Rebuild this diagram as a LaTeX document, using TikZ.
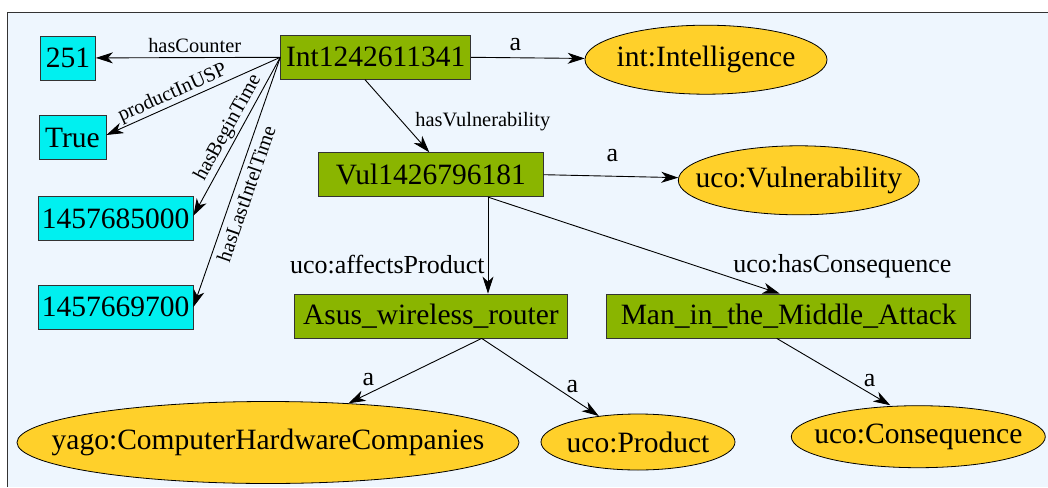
\documentclass[tikz,border=0pt]{standalone}
\usepackage{fontspec}
\setmainfont{LiberationSerif}[Extension=.ttf,UprightFont=*-Regular,BoldFont=*-Bold,ItalicFont=*-Italic]
\usetikzlibrary{arrows.meta,shapes.geometric}
\definecolor{bgblue}{RGB}{238,246,254}
\definecolor{boxgreen}{RGB}{138,181,0}
\definecolor{litcyan}{RGB}{0,240,240}
\definecolor{classgold}{RGB}{255,208,42}
\begin{document}
\begin{tikzpicture}[x=1pt,y=-1pt,
  inst/.style={draw=black!80, fill=boxgreen, line width=0.8pt, inner sep=0pt,
    font=\rmfamily\fontsize{29.5}{31}\selectfont, minimum height=44pt},
  lit/.style={draw=black!80, fill=litcyan, line width=0.8pt, inner sep=0pt,
    font=\rmfamily\fontsize{29.5}{31}\selectfont, minimum height=44pt},
  cls/.style={ellipse, draw=black, fill=classgold, line width=0.8pt, inner sep=0pt,
    font=\rmfamily\fontsize{29.5}{31}\selectfont},
  rel/.style={-{Stealth[length=17pt,width=11pt,inset=5pt]}, line width=0.9pt},
  slab/.style={font=\rmfamily\fontsize{20.4}{22}\selectfont, inner sep=1pt},
  blab/.style={font=\rmfamily\fontsize{26}{28}\selectfont, inner sep=1pt}]
\useasboundingbox (0,0) rectangle (1048,487);
\fill[bgblue] (7,12) rectangle (1048,487);
\draw[line width=0.9pt, black!80] (7,487) -- (7,12) -- (1048,12);

% literal nodes
\node[lit, minimum width=55pt] (c251) at (68,58) {251};
\node[lit, minimum width=67pt] (true) at (72.5,137.5) {True};
\node[lit, minimum width=155pt] (t1) at (115.5,218.7) {1457685000};
\node[lit, minimum width=155pt] (t2) at (115.5,307) {1457669700};
% instance nodes
\node[inst, minimum width=190pt] (int) at (375.7,57.3) {Int1242611341};
\node[inst, minimum width=225pt] (vul) at (430.8,174.7) {Vul1426796181};
\node[inst, minimum width=273pt] (asus) at (431,316) {Asus\_wireless\_router};
\node[inst, minimum width=364pt] (mitm) at (788.7,316) {Man\_in\_the\_Middle\_Attack};
% class nodes
\node[cls, minimum width=242pt, minimum height=69pt] (intel) at (706,59.7) {\makebox[0pt]{int:Intelligence}};
\node[cls, minimum width=241pt, minimum height=69pt] (vulc) at (798.8,180.3) {\makebox[0pt]{uco:Vulnerability}};
\node[cls, minimum width=502pt, minimum height=82pt] (yago) at (268,442.5) {\makebox[0pt]{yago:ComputerHardwareCompanies}};
\node[cls, minimum width=194pt, minimum height=56pt] (prod) at (638,442) {\makebox[0pt]{uco:Product}};
\node[cls, minimum width=254pt, minimum height=62pt] (cons) at (918.3,436.7) {\makebox[0pt]{uco:Consequence}};

% edges
\draw[rel] (int.west) -- node[slab, pos=0.464, above=3pt]{hasCounter} (c251);
\draw[rel] (int.west) -- node[slab, sloped, pos=0.594, above=0pt]{productInUSP} ([yshift=2.5pt]true.east);
\draw[rel] (int.west) -- node[slab, sloped, pos=0.48, above=1pt]{hasBeginTime} ([yshift=3pt]t1.east);
\draw[rel] (int.west) -- node[slab, sloped, pos=0.53, below=4pt]{hasLastIntelTime} (t2.east);
\draw[rel] (int.east) -- node[blab, pos=0.39, above=6pt]{a} (intel);
\draw[rel] ([xshift=-10.7pt]int.south) -- node[slab, pos=0.58, anchor=west, xshift=11.7pt]{hasVulnerability} ([xshift=-1.5pt]vul.north);
\draw[rel] (vul.east) -- node[blab, pos=0.51, above=13pt]{a} (vulc);
\coordinate (vfork) at ([xshift=57.2pt]vul.south);
\draw[rel] (vfork) -- node[blab, pos=0.694, anchor=east, xshift=-2pt]{uco:affectsProduct} (vfork |- asus.north);
\draw[rel] (vfork) -- node[blab, pos=0.85, anchor=south west, xshift=-4pt]{uco:hasConsequence} ([xshift=-9pt]mitm.north);
\coordinate (afork) at ([xshift=50.7pt]asus.south);
\draw[rel] (afork) -- node[blab, pos=0.85, above=6pt]{a} (yago);
\draw[rel] (afork) -- node[blab, pos=0.775, above=4.4pt]{a} (prod);
\draw[rel] ([xshift=-12pt]mitm.south) -- node[blab, pos=0.817, above=5.3pt]{a} ([xshift=-28pt]cons.north);
\end{tikzpicture}
\end{document}
